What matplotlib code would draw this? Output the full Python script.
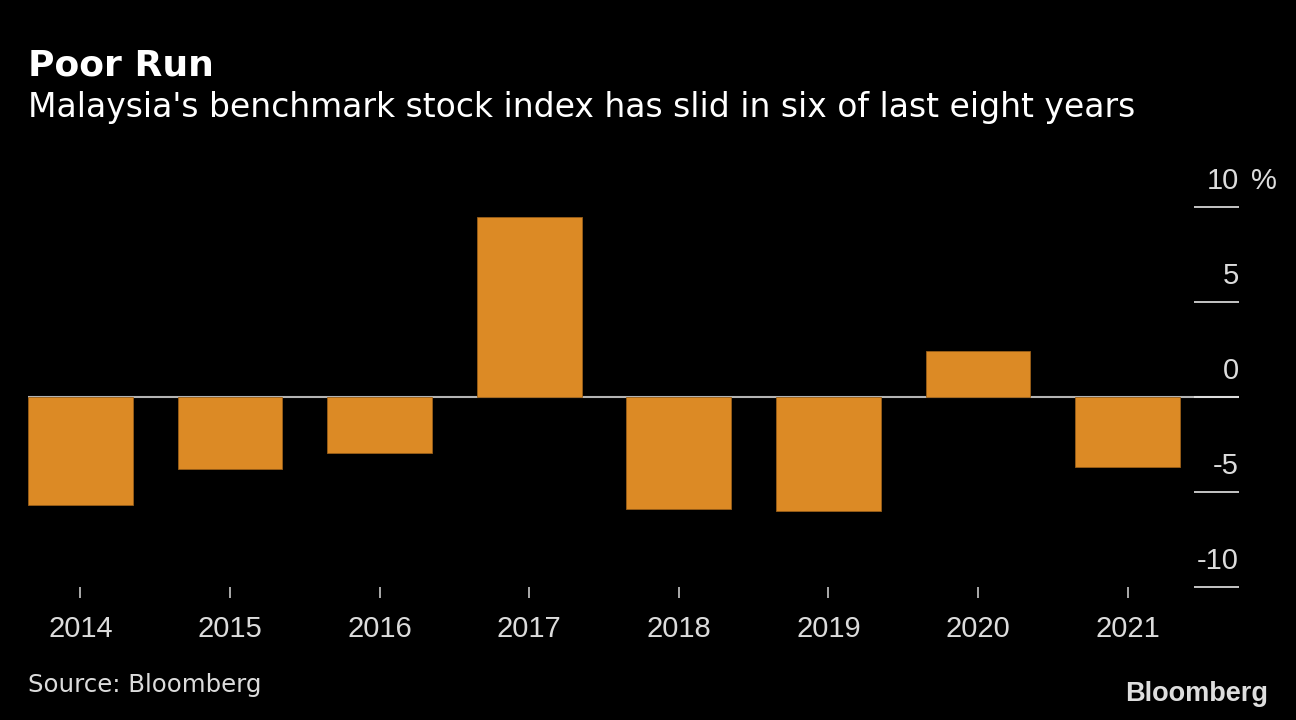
import matplotlib
matplotlib.use("Agg")
import matplotlib.pyplot as plt
import matplotlib.transforms as mtransforms

years = ["2014", "2015", "2016", "2017", "2018", "2019", "2020", "2021"]
changes = [-5.7, -3.8, -2.95, 9.5, -5.9, -6.0, 2.4, -3.7]
yticks = [-10, -5, 0, 5, 10]

bg = "black"
bar_col = "#dc8a25"
txt_col = "#dcdcdc"
font = "Liberation Sans"

W, H = 1296, 720
fig = plt.figure(figsize=(W / 100, H / 100), dpi=100, facecolor=bg)
ax = fig.add_axes([28 / W, 1 - 587 / H, (1239 - 28) / W, (587 - 207) / H])
ax.set_facecolor(bg)

x = list(range(len(years)))
ax.axhline(0, color="#b4b4b4", lw=1.5, zorder=1)
ax.bar(x, changes, width=0.7, color=bar_col, edgecolor="#9a5f18", linewidth=0.6, zorder=2)

ax.set_xlim(-0.35, 7.745)
ax.set_ylim(-10, 10)
for s in ax.spines.values():
    s.set_visible(False)

ax.set_xticks(x)
ax.set_xticklabels(years, fontsize=21, color=txt_col, family=font)
ax.tick_params(axis="x", direction="out", length=8, width=1.2, color="#c8c8c8", pad=12)

# right-hand value ticks: lines inside the plot, labels sitting above them
ax.yaxis.tick_right()
ax.set_yticks(yticks)
ax.set_yticklabels([])
ax.tick_params(axis="y", direction="in", length=32.4, width=1.2, color="#e6e6e6")
trans = mtransforms.blended_transform_factory(ax.transAxes, ax.transData)
for v in yticks:
    ax.annotate(str(v), (1.0, v), xycoords=trans, xytext=(0, 13), textcoords="offset points",
                ha="right", va="baseline", fontsize=21, color=txt_col, family=font)
ax.annotate("%", (1.0, yticks[-1]), xycoords=trans, xytext=(9, 13), textcoords="offset points",
            ha="left", va="baseline", fontsize=21, color=txt_col, family=font)

fig.text(28 / W, 1 - 75 / H, "Poor Run", fontsize=26, fontweight="bold", color="white",
         family="DejaVu Sans", va="baseline")
fig.text(28 / W, 1 - 117 / H, "Malaysia's benchmark stock index has slid in six of last eight years",
         fontsize=23.8, color="white", family="DejaVu Sans", va="baseline")
fig.text(28 / W, 1 - 692 / H, "Source: Bloomberg", fontsize=17.6, color=txt_col,
         family="DejaVu Sans", va="baseline")
fig.text(1268 / W, 1 - 701 / H, "Bloomberg", fontsize=19.5, fontweight="bold", color="#dedede",
         family="Liberation Sans", ha="right", va="baseline")

fig.savefig("out.png", dpi=100, facecolor=bg)
